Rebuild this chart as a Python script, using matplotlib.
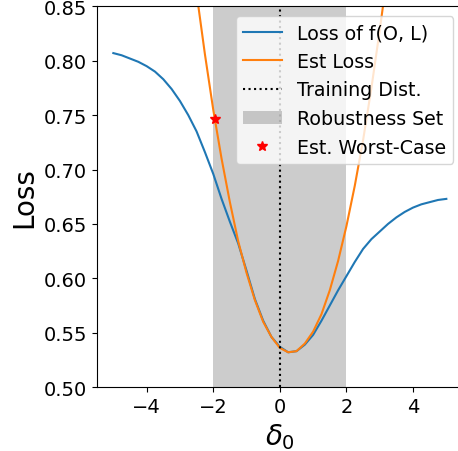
import numpy as np
import matplotlib
matplotlib.use("Agg")
import matplotlib.pyplot as plt

# Shift of the input distribution (delta_0)
delta = [-5.00, -4.75, -4.50, -4.25, -4.00, -3.75, -3.50, -3.25, -3.00, -2.75,
         -2.50, -2.25, -2.00, -1.75, -1.50, -1.25, -1.00, -0.75, -0.50, -0.25,
         0.00, 0.25, 0.50, 0.75, 1.00, 1.25, 1.50, 1.75, 2.00, 2.25,
         2.50, 2.75, 3.00, 3.25, 3.50, 3.75, 4.00, 4.25, 4.50, 4.75, 5.00]

# Measured loss of f(O, L)
loss_true = [0.807, 0.805, 0.802, 0.799, 0.795, 0.790, 0.783, 0.774, 0.763, 0.750,
             0.735, 0.716, 0.696, 0.673, 0.652, 0.632, 0.607, 0.581, 0.561, 0.546,
             0.537, 0.532, 0.533, 0.539, 0.548, 0.561, 0.575, 0.589, 0.602, 0.615,
             0.627, 0.636, 0.643, 0.650, 0.656, 0.661, 0.665, 0.668, 0.670, 0.672, 0.673]

# Estimated loss curve
delta_est = [-2.50, -2.25, -2.00, -1.75, -1.50, -1.25, -1.00, -0.75, -0.50, -0.25,
             0.00, 0.25, 0.50, 0.75, 1.00, 1.25, 1.50, 1.75, 2.00, 2.25,
             2.50, 2.75, 3.00, 3.25]
loss_est = [0.862, 0.806, 0.755, 0.710, 0.670, 0.634, 0.605, 0.580, 0.560, 0.546,
            0.536, 0.532, 0.533, 0.540, 0.551, 0.567, 0.589, 0.616, 0.648, 0.685,
            0.727, 0.775, 0.828, 0.885]

# Robustness set bounds and estimated worst case
robust_lo, robust_hi = -2.0, 2.0
worst_delta = [-1.95]
worst_loss = [0.746]

fig = plt.figure(figsize=(4.58, 4.52), dpi=100)
ax = fig.add_axes([0.2111, 0.1414, 0.7998, 0.8424])

ax.plot(delta, loss_true, color="tab:blue", label="Loss of f(O, L)")
ax.plot(delta_est, loss_est, color="tab:orange", label="Est Loss")
ax.axvline(0, color="black", linestyle=":", label="Training Dist.")
ax.axvspan(robust_lo, robust_hi, color="gray", alpha=0.4, linewidth=0,
           label="Robustness Set")
ax.plot(worst_delta, worst_loss, linestyle="none", marker="*", color="red",
        markersize=7, label="Est. Worst-Case")

ax.set_xlim(-5.5, 5.5)
ax.set_ylim(0.5, 0.85)
ax.set_xticks([-4, -2, 0, 2, 4])
ax.set_yticks(np.arange(0.50, 0.851, 0.05))
ax.tick_params(labelsize=14)
ax.set_xlabel(r"$\delta_0$", fontsize=20)
ax.set_ylabel("Loss", fontsize=20)
ax.legend(loc="upper right", fontsize=13.7)

fig.savefig("out.png", dpi=100)
